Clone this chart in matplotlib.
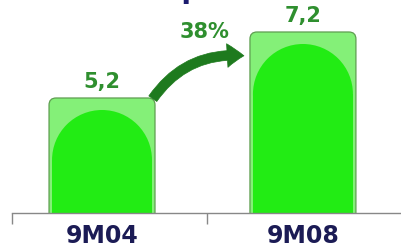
# receita liquida 9M04 x 9M08

import matplotlib.pyplot as plt
from matplotlib.patches import FancyBboxPatch, Ellipse, FancyArrowPatch

periods = ["9M04", "9M08"]
values = [5.2, 7.2]
value_labels = ["5,2", "7,2"]
growth_label = "38%"
title = "Receita Líquida"

W, H = 402, 247
fig = plt.figure(figsize=(W / 100, H / 100), dpi=100)
ax = fig.add_axes([12 / W, (H - 213) / H, (W - 12) / W, 213 / H])

y0 = 1.715
px_y = 33.0   # px per unit
px_x = 201.0
ax.set_xlim(-0.448, 1.493)
ax.set_ylim(y0, y0 + 213 / px_y)

bw = 106 / px_x
for i, v in enumerate(values):
    # outer light green bar with rounded top
    outer = FancyBboxPatch((i - bw / 2, y0 - 1), bw, v - y0 + 1,
                           boxstyle="round,pad=0,rounding_size=0.035",
                           mutation_aspect=px_x / px_y,
                           fc="#84F078", ec="#5E9E50", lw=0.9, zorder=2)
    ax.add_patch(outer)
    # inner bright dome
    margin = 3 / px_x
    dome_top = v - 12 / px_y
    dome_h = 50 / px_y
    ax.add_patch(Ellipse((i, dome_top - dome_h), bw - 2 * margin, 2 * dome_h,
                         fc="#22EC14", ec="none", zorder=3))
    ax.bar(i, dome_top - dome_h - y0 + 1, width=bw - 2 * margin, bottom=y0 - 1,
           color="#22EC14", zorder=3)
    ax.text(i, v + 16 / px_y, value_labels[i], ha="center", va="center",
            fontsize=15, fontweight="bold", color="#2F8F2F", zorder=5)

# growth arrow
arrow = FancyArrowPatch((0.245, y0 + 112 / px_y), (0.72, y0 + 157 / px_y),
                        connectionstyle="arc3,rad=-0.3",
                        arrowstyle="simple,head_width=17,head_length=12,tail_width=7",
                        fc="#1E7A1E", ec="#1E7A1E", lw=0.5, zorder=4)
ax.add_patch(arrow)
ax.text(0.51, y0 + 181 / px_y, growth_label, ha="center", va="center",
        fontsize=15, fontweight="bold", color="#2F8F2F", zorder=5)

# axis
for s in ["top", "right", "left"]:
    ax.spines[s].set_visible(False)
ax.spines["bottom"].set_color("#888888")
ax.spines["bottom"].set_linewidth(1)
ax.spines["bottom"].set_zorder(6)
ax.set_yticks([])
ax.set_xticks([-0.448, 0.522])
ax.set_xticklabels([])
ax.tick_params(axis="x", length=8, color="#888888", width=1)
for i, p in enumerate(periods):
    ax.text(i, y0 - 23 / px_y, p, ha="center", va="center", fontsize=17,
            fontweight="bold", color="#1B1B55", clip_on=False)

# title sits mostly above the visible area, as in the source image
fig.text(17 / W, 1 + 2 / H, title, ha="left", va="baseline", fontsize=20,
         fontweight="bold", color="#1B1B6E")

fig.savefig("out.png", dpi=100)
